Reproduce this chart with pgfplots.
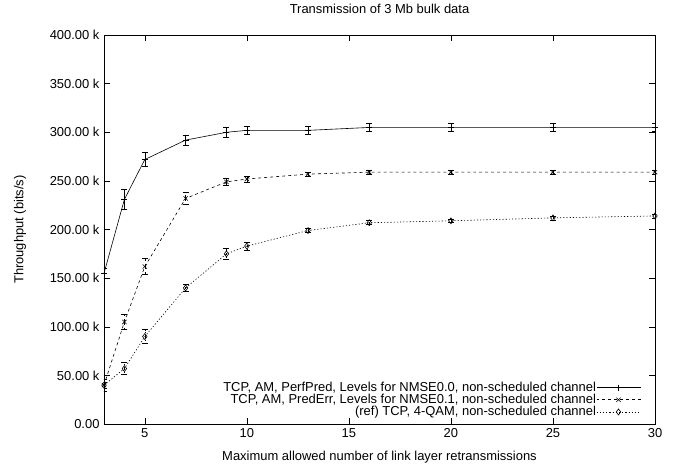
\documentclass[border=0pt]{standalone}
\usepackage{fontspec}
\setmainfont{Liberation Sans}
\usepackage{pgfplots}
\pgfplotsset{compat=1.18}

\begin{document}
\fontsize{13}{15}\selectfont
\begin{tikzpicture}
\begin{axis}[
  scale only axis,
  width=551bp, height=389bp,
  xmin=3, xmax=30, ymin=0, ymax=400000,
  xtick={5,10,15,20,25,30},
  ytick={0,50000,100000,150000,200000,250000,300000,350000,400000},
  yticklabels={0.00,50.00 k,100.00 k,150.00 k,200.00 k,250.00 k,300.00 k,350.00 k,400.00 k},
  scaled y ticks=false,
  /pgf/number format/assume math mode=true,
  tick align=inside,
  major tick length=6bp,
  tick style={line width=0.6pt, black},
  axis line style={line width=0.6pt},
  title={Transmission of 3 Mb bulk data},
  title style={at={(axis description cs:0.5,1)}, anchor=center, yshift=20bp},
  xlabel={Maximum allowed number of link layer retransmissions},
  xlabel style={at={(axis description cs:0.5,0)}, anchor=center, yshift=-33bp},
  ylabel={Throughput (bits/s)},
  ylabel style={at={(axis description cs:-0.1525,0.5)}, anchor=center},
  legend style={draw=none, fill=none, at={(axis description cs:1,0)}, anchor=south east,
    xshift=-14bp, yshift=6bp, inner sep=0pt, row sep=0.5bp, nodes={inner sep=0.2bp},
    cells={anchor=east}, font=\fontsize{13}{15}\selectfont},
  legend plot pos=right,
  legend image code/.code={\draw[mark repeat=2, mark phase=2] plot coordinates {(5bp,0bp) (27bp,0bp) (49bp,0bp)};},
  error bars/error mark options={rotate=90, mark size=3bp, line width=0.6pt, black},
]
\addplot[black, line width=0.6pt, mark size=3bp, solid, mark=+, error bars/.cd, y dir=both, y explicit] coordinates {
  (3,155000) +- (0,5000)
  (4,231000) +- (0,10000)
  (5,272000) +- (0,7000)
  (7,292000) +- (0,5000)
  (9,300000) +- (0,5000)
  (10,302000) +- (0,4000)
  (13,302000) +- (0,4000)
  (16,305000) +- (0,4000)
  (20,305000) +- (0,4000)
  (25,305000) +- (0,4000)
  (30,305000) +- (0,4000)
};
\addlegendentry{TCP, AM, PerfPred, Levels for NMSE0.0, non-scheduled channel}
\addplot[black, line width=0.6pt, mark size=3bp, dashed, mark=x, mark options={solid}, error bars/.cd, y dir=both, y explicit] coordinates {
  (3,40000) +- (0,6000)
  (4,105000) +- (0,8000)
  (5,162000) +- (0,8000)
  (7,232000) +- (0,6000)
  (9,249000) +- (0,4000)
  (10,252000) +- (0,3000)
  (13,257000) +- (0,2000)
  (16,259000) +- (0,2000)
  (20,259000) +- (0,2000)
  (25,259000) +- (0,2000)
  (30,259000) +- (0,2000)
};
\addlegendentry{TCP, AM, PredErr, Levels for NMSE0.1, non-scheduled channel}
\addplot[black, line width=0.6pt, mark size=3bp, dash pattern=on 1.2bp off 2bp, mark=diamond, mark options={solid}, error bars/.cd, y dir=both, y explicit] coordinates {
  (3,40000) +- (0,3000)
  (4,57000) +- (0,6000)
  (5,90000) +- (0,7000)
  (7,140000) +- (0,4000)
  (9,175000) +- (0,6000)
  (10,183000) +- (0,4000)
  (13,199000) +- (0,2000)
  (16,207000) +- (0,2000)
  (20,209000) +- (0,2000)
  (25,212000) +- (0,2000)
  (30,214000) +- (0,2000)
};
\addlegendentry{(ref) TCP, 4-QAM, non-scheduled channel}
\coordinate (sw) at (rel axis cs:0,0);
\end{axis}
\path[use as bounding box] (sw) ++(-104bp,-45bp) rectangle ++(681bp,468bp);
\end{tikzpicture}
\end{document}
